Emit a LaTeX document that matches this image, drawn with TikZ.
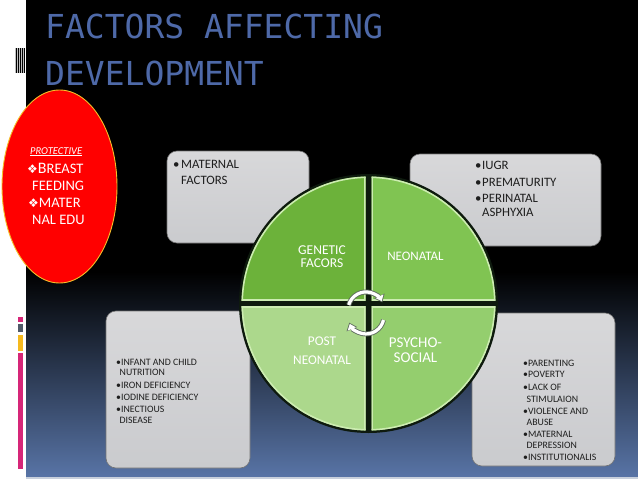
\documentclass[tikz,border=0pt]{standalone}
\usepackage{fontspec}
\setmainfont{Carlito}
\newfontfamily\titlefont{DejaVu Sans Mono}
\newfontfamily\symfont{DejaVu Sans}
\usetikzlibrary{shapes.geometric,arrows.meta}
\definecolor{titleblue}{RGB}{78,105,168}
\definecolor{bluebot}{RGB}{88,116,166}
\definecolor{boxtop}{RGB}{216,216,218}
\definecolor{boxbot}{RGB}{202,203,206}
\definecolor{qA}{RGB}{108,178,58}
\definecolor{qB}{RGB}{128,196,82}
\definecolor{qC}{RGB}{172,216,140}
\definecolor{qD}{RGB}{148,206,110}
\definecolor{qhi}{RGB}{205,236,178}
\definecolor{gapdark}{RGB}{14,26,14}
\definecolor{barpink}{RGB}{214,38,120}
\definecolor{bargray}{RGB}{80,90,105}
\definecolor{baryellow}{RGB}{245,185,30}
\definecolor{ellborder}{RGB}{245,190,40}
\definecolor{cycgray}{RGB}{95,108,95}
\definecolor{txtdark}{RGB}{30,30,30}
\definecolor{stripbot}{RGB}{200,208,220}
\newcommand\myquad[3]{%
  \begin{scope}
    \clip (C) circle[radius=127];
    \clip #2 rectangle #3;
    \fill[#1] (C) circle[radius=127];
    \draw[qhi, line width=3pt] (C) circle[radius=127];
    \draw[qhi, line width=3pt] #2 rectangle #3;
  \end{scope}}
\tikzset{
  titlesty/.style={anchor=base west, inner sep=0, text=titleblue,
    font=\titlefont\fontsize{33}{33}\selectfont},
  gbox/.style={rounded corners=10pt, draw=black!55, line width=0.6pt,
    top color=boxtop, bottom color=boxbot, inner sep=0, outer sep=0},
  bigtxt/.style={anchor=base west, inner sep=0, text=txtdark,
    font=\fontsize{12.8}{12.8}\selectfont},
  smalltxt/.style={anchor=base west, inner sep=0, text=txtdark,
    font=\fontsize{9.8}{9.8}\selectfont},
  quadtxt/.style={anchor=base, inner sep=0, text=white},
  elltxt/.style={anchor=base west, inner sep=0, text=white,
    font=\fontsize{14.5}{14.5}\selectfont},
}
\begin{document}
\begin{tikzpicture}[x=1pt,y=-1pt]
\useasboundingbox (0,0) rectangle (638,479);
% background
\fill[white] (0,0) rectangle (638,479);
\fill[black] (26,0) rectangle (638,272);
\shade[top color=black, bottom color=bluebot] (26,271.5) rectangle (638,477);
\fill[stripbot] (26,477) rectangle (638,479);
% left decorations
\fill[black!25] (15,48) rectangle (25,73);
\foreach \bx in {16,18,20,22,24} {\fill[black] (\bx-0.5,48) rectangle (\bx+0.5,73);}
\fill[barpink] (18,317) rectangle (23,322);
\fill[bargray] (18,323.5) rectangle (23,332);
\fill[baryellow] (18,335) rectangle (23,351);
\fill[barpink] (18,352.5) rectangle (23,469);
% title
\node[titlesty] (t1) at (45,38) {FACTORS AFFECTING};
\node[titlesty] (t2) at (45,85) {DEVELOPMENT};
% protective ellipse
\node[ellipse, draw=ellborder, fill=red, line width=0.9pt, inner sep=0,
  minimum width=115pt, minimum height=193pt] (prot) at (59.5,186.5) {};
\node[anchor=base west, inner sep=0, text=white, font=\fontsize{10.5}{10.5}\selectfont\itshape]
  (p0) at (30,154) {\underline{PROTECTIVE}};
\node[elltxt] (p1) at (27,173) {{\symfont\fontsize{12}{12}\selectfont ❖}{\fontsize{16}{16}\selectfont B}REAST};
\node[elltxt] (p2) at (32,190) {FEEDING};
\node[elltxt] (p3) at (28,207) {{\symfont\fontsize{12}{12}\selectfont ❖}MATER};
\node[elltxt] (p4) at (32,224) {NAL EDU};
% grey boxes
\node[gbox, minimum width=142pt, minimum height=92pt] (boxtl) at (238,197) {};
\node[gbox, minimum width=191pt, minimum height=92pt] (boxtr) at (505.5,200) {};
\node[gbox, minimum width=144pt, minimum height=157pt] (boxbl) at (178,389.5) {};
\node[gbox, minimum width=143pt, minimum height=153pt] (boxbr) at (543.5,389.5) {};
% box texts
\node[bigtxt] (a0) at (173,168) {•};
\node[bigtxt] (a1) at (181,168) {MATERNAL};
\node[bigtxt] (a2) at (181,184) {FACTORS};
\node[bigtxt] (b0) at (475,169) {•};
\node[bigtxt] (b1) at (482,169) {IUGR};
\node[bigtxt] (b2) at (475,186) {•};
\node[bigtxt] (b3) at (482,186) {PREMATURITY};
\node[bigtxt] (b4) at (475,202) {•};
\node[bigtxt] (b5) at (482,202) {PERINATAL};
\node[bigtxt] (b6) at (482,216) {ASPHYXIA};
\node[smalltxt] (c1) at (116,365) {•INFANT AND CHILD};
\node[smalltxt] (c2) at (119.5,375) {NUTRITION};
\node[smalltxt] (c3) at (116,388) {•IRON DEFICIENCY};
\node[smalltxt] (c4) at (116,400) {•IODINE DEFICIENCY};
\node[smalltxt] (c5) at (116,412.5) {•INECTIOUS};
\node[smalltxt] (c6) at (119.5,423) {DISEASE};
\node[smalltxt] (d1) at (523,366) {•PARENTING};
\node[smalltxt] (d2) at (523,377.5) {•POVERTY};
\node[smalltxt] (d3) at (523,390) {•LACK OF};
\node[smalltxt] (d4) at (526.5,402) {STIMULAION};
\node[smalltxt] (d5) at (523,414) {•VIOLENCE AND};
\node[smalltxt] (d6) at (526.5,425.5) {ABUSE};
\node[smalltxt] (d7) at (523,437) {•MATERNAL};
\node[smalltxt] (d8) at (526.5,448.5) {DEPRESSION};
\node[smalltxt] (d9) at (523,460) {•INSTITUTIONALIS};
% circle
\coordinate (C) at (368.5,303.5);
\fill[gapdark] (C) circle[radius=129.5];
\myquad{qA}{(230,170)}{(365.5,300.5)}
\myquad{qB}{(371.5,170)}{(505,300.5)}
\myquad{qC}{(230,306.5)}{(365.5,440)}
\myquad{qD}{(371.5,306.5)}{(505,440)}
% quadrant labels
\node[quadtxt, font=\fontsize{13.5}{13.5}\selectfont] (g1) at (322,254) {GENETIC};
\node[quadtxt, font=\fontsize{13.5}{13.5}\selectfont] (g2) at (322,267) {FACORS};
\node[quadtxt, font=\fontsize{13}{13}\selectfont] (n1) at (415.5,260) {NEONATAL};
\node[quadtxt, font=\fontsize{13.3}{13.3}\selectfont] (pn1) at (322,345) {POST};
\node[quadtxt, font=\fontsize{13.3}{13.3}\selectfont] (pn2) at (322,364) {NEONATAL};
\node[quadtxt, font=\fontsize{15}{15}\selectfont] (ps1) at (415.5,347) {PSYCHO-};
\node[quadtxt, font=\fontsize{15}{15}\selectfont] (ps2) at (415.5,362) {SOCIAL};
% cycle arrows
\coordinate (u0) at (348.7,305);
\coordinate (l0) at (383.5,320);
\draw[cycgray, line width=5pt, -{Triangle[length=7pt,width=11pt]}]
  (u0) arc[start angle=196, end angle=335, radius=18];
\draw[white, line width=3.2pt, shorten >=1.3pt, -{Triangle[length=5.4pt,width=8.4pt]}]
  (u0) arc[start angle=196, end angle=335, radius=18];
\draw[cycgray, line width=5pt, -{Triangle[length=7pt,width=11pt]}]
  (l0) arc[start angle=13, end angle=158, radius=18];
\draw[white, line width=3.2pt, shorten >=1.3pt, -{Triangle[length=5.4pt,width=8.4pt]}]
  (l0) arc[start angle=13, end angle=158, radius=18];
\end{tikzpicture}
\end{document}
